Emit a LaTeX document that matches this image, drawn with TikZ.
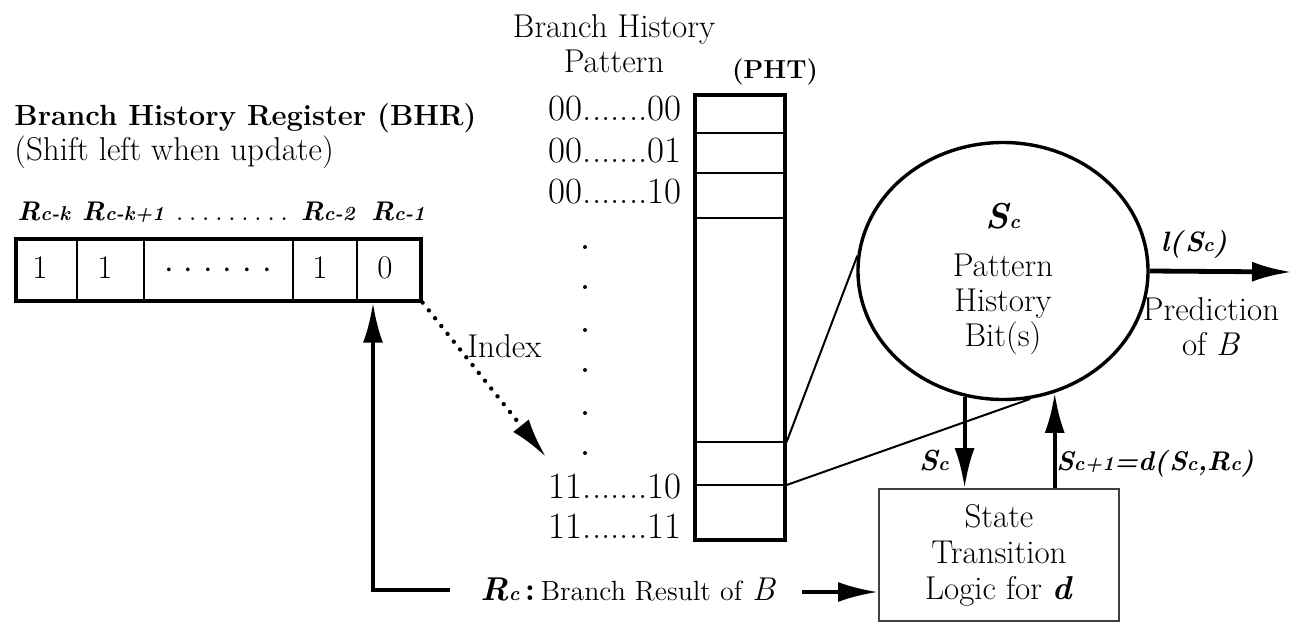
\documentclass[tikz,border=0pt]{standalone}
\usepackage{amsmath,amssymb}
\usepackage{tikz}
\usetikzlibrary{calc}
\usetikzlibrary{positioning}
\usetikzlibrary{shapes.geometric, arrows.meta}

\newcommand{\bisub}[2]{\textbf{\textit{#1{\fontsize{10}{12}\selectfont #2}}}}
\newcommand{\bitxt}[1]{\textbf{\textit{#1}}}
\newcommand{\rowfont}{\fontsize{18.5}{20}\selectfont}
\newcommand{\lblfont}{\fontsize{13.5}{15}\selectfont}

\begin{document}
\begin{tikzpicture}[x=0.5pt,y=0.5pt,yscale=-1,
    font=\fontsize{16.5}{17.5}\selectfont,
    txt/.style={inner sep=0pt},
    fat/.style={line width=2pt,-{Latex[length=20pt,width=10pt]}},
    frame/.style={draw,line width=1.8pt,inner sep=0pt},
    cell/.style={line width=0.9pt},
    thinline/.style={line width=1pt},
    idxarrow/.style={line width=2.2pt,line cap=round,dash pattern=on 0pt off 5pt,-{Latex[length=20pt,width=10pt]}}]
    \useasboundingbox (0,0) rectangle (1292,622);

    % Register and its fields
    \node (bhrtitle) [txt, anchor=base west, font=\fontsize{14.6}{16}\selectfont\bfseries] at (14,125) {Branch History Register (BHR)};
    \node (bhrnote) [txt, anchor=base west] at (14,160) {(Shift left when update)};
    \node (lk) [txt, anchor=base, font=\lblfont] at (44,220) {\bisub{R}{c-k}};
    \node (lk1) [txt, anchor=base, font=\lblfont] at (123,220) {\bisub{R}{c-k+1}};
    \node (ldots) [txt, anchor=base] at (232,220) {\foreach \i in {1,...,9}{.\hspace{2.4pt}}};
    \node (l2) [txt, anchor=base, font=\lblfont] at (328,220) {\bisub{R}{c-2}};
    \node (l1) [txt, anchor=base, font=\lblfont] at (398,220) {\bisub{R}{c-1}};

    \node (bhr) [frame, anchor=north west, minimum width=202.5pt, minimum height=31pt] at (14,237) {};
    \foreach \x in {77,144,293,357}
        \draw[cell] (\x,237) -- (\x,299);
    \node (b1) [txt, anchor=base] at (40,278) {1};
    \node (b2) [txt, anchor=base] at (105,278) {1};
    \node (b3) [txt, anchor=base] at (218,278) {$\cdot$\hspace{5pt}$\cdot$\hspace{5pt}$\cdot$\hspace{5pt}$\cdot$\hspace{5pt}$\cdot$\hspace{5pt}$\cdot$};
    \node (b4) [txt, anchor=base] at (320,278) {1};
    \node (b5) [txt, anchor=base] at (385,278) {0};

    % Pattern history table
    \node (bhphead) [txt, anchor=north, align=center] at (614,14) {Branch History\\Pattern};
    \node (phtlbl) [txt, anchor=base, font=\fontsize{13}{15}\selectfont\bfseries] at (775,78) {(PHT)};
    \node (pht) [frame, anchor=north west, minimum width=45pt, minimum height=222.5pt] at (693,93) {};
    \foreach \y in {133,173,218}
        \draw[line width=1.4pt] (pht.west |- 0,\y) -- (pht.east |- 0,\y);
    \foreach \y in {442,485}
        \draw[cell] (pht.west |- 0,\y) -- (pht.east |- 0,\y);

    \node (r0000) [txt, anchor=base east, font=\rowfont] at (682,120) {00.......00};
    \node (r0001) [txt, anchor=base east, font=\rowfont] at (682,162) {00.......01};
    \node (r0010) [txt, anchor=base east, font=\rowfont] at (682,203) {00.......10};
    \node (r1110) [txt, anchor=base east, font=\rowfont] at (682,498) {11.......10};
    \node (r1111) [txt, anchor=base east, font=\rowfont] at (682,538) {11.......11};
    \foreach \y in {247,287,330,370,413,453}
        \fill (585,\y) circle (2);

    % Index and branch result
    \coordinate (idxend) at (546,457);
    \draw[idxarrow] (bhr.south east) -- (idxend);
    \node (idxlbl) [txt, anchor=base west] at (467,357) {Index};

    \node (rclbl) [txt, anchor=base west] at (480,600) {\bisub{R}{c}\,\textbf{:}\,{\fontsize{13.9}{15}\selectfont Branch Result of} \textit{B}};
    \coordinate (retstart) at (450,590);
    \coordinate (retcorner) at (373,590);
    \draw[fat] (retstart) -- (retcorner) -- (retcorner |- bhr.south);

    % Pattern history bits and state logic
    \node (phb) [draw, ellipse, line width=1.7pt, minimum width=145pt, minimum height=128.5pt, inner sep=0pt] at (1003,271) {};
    \node (phbsc) [txt, anchor=base, font=\fontsize{18}{20}\selectfont] at (1003,228) {\bisub{S}{c}};
    \node (phbtxt) [txt, anchor=north, align=center] at (1003,254) {Pattern\\History\\Bit(s)};
    \draw[thinline] (pht.east |- 0,442) -- (phb.174);
    \draw[thinline] (pht.east |- 0,485) -- (phb.282);

    \node (stl) [draw=black!75, line width=1pt, anchor=north west, minimum width=120pt, minimum height=66pt, align=center, font=\fontsize{16.5}{18}\selectfont] at (878,488) {State\\Transition\\Logic for \bitxt{d}};
    \draw[fat] (phb.253) -- (phb.253 |- stl.north);
    \draw[fat] (phb.293 |- stl.north) -- (phb.293);
    \node (sclbl) [txt, anchor=base, font=\fontsize{14.5}{16}\selectfont] at (934,470) {\bisub{S}{c}};
    \node (nextlbl) [txt, anchor=base west, font=\lblfont] at (1056,470) {\bisub{S}{c+1}\bitxt{=d(}\bisub{S}{c}\bitxt{,}\bisub{R}{c}\bitxt{)}};

    \coordinate (rin) at (802,592);
    \draw[fat] (rin) -- (rin -| stl.west);

    % Prediction output
    \coordinate (predend) at (1292,272);
    \draw[fat, line width=2.4pt] (phb.east) -- (predend);
    \node (lsc) [txt, anchor=base, font=\fontsize{14}{16}\selectfont] at (1194,251) {\bitxt{l(}\bisub{S}{c}\bitxt{)}};
    \node (predtxt) [txt, anchor=north, align=center] at (1211,297) {Prediction\\of \textit{B}};
\end{tikzpicture}
\end{document}
